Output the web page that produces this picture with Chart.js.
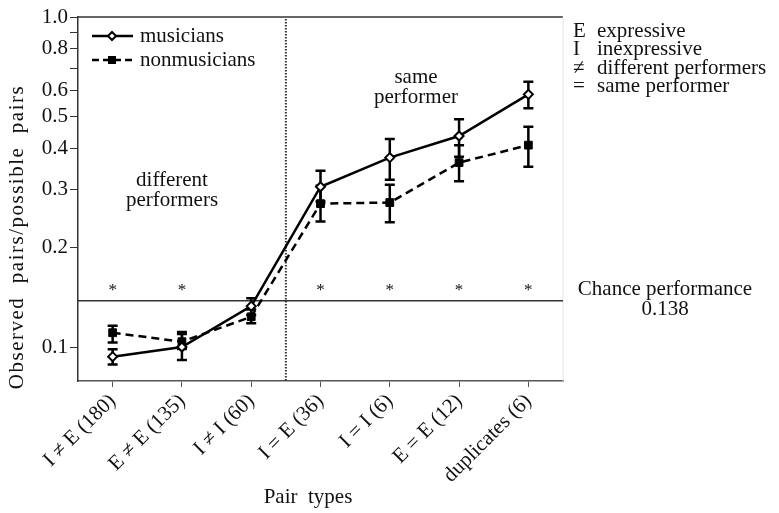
<!DOCTYPE html>
<html>
<head>
<meta charset="utf-8">
<script src="https://cdn.jsdelivr.net/npm/chart.js@4"></script>
<style>
  html, body { margin: 0; padding: 0; background: #fff; }
  #wrap { width: 779px; height: 513px; }
</style>
</head>
<body>
<div id="wrap"><canvas id="myChart" width="779" height="513"></canvas></div>
<script>
// data
const pairTypes = ['I \u2260 E (180)', 'E \u2260 E (135)', 'I \u2260 I (60)', 'I = E (36)', 'I = I (6)', 'E = E (12)', 'duplicates (6)'];

const musicians    = [0.0935, 0.100, 0.133, 0.306, 0.375, 0.436, 0.583];
const musiciansLo  = [0.0886, 0.0913, 0.125, 0.276, 0.321, 0.377, 0.529];
const musiciansHi  = [0.0984, 0.111, 0.1405, 0.342, 0.427, 0.490, 0.637];

const nonmusicians   = [0.1105, 0.1038, 0.1235, 0.272, 0.274, 0.362, 0.409];
const nonmusiciansLo = [0.1033, 0.0986, 0.118, 0.240, 0.239, 0.318, 0.352];
const nonmusiciansHi = [0.116, 0.1095, 0.130, 0.308, 0.310, 0.409, 0.465];

const significant = [true, true, false, true, true, true, true];
const starLevel = 0.152;
const chanceLevel = 0.138;
const dividerAt = 2.5; // between different / same performer groups

const yTickValues = [0.1, 0.2, 0.3, 0.4, 0.5, 0.6, 0.7, 0.8, 0.9, 1.0];
const yTickLabels = ['0.1', '0.2', '0.3', '0.4', '0.5', '0.6', '', '0.8', '', '1.0'];

const SERIF = '"Liberation Serif", "DejaVu Serif", serif';
const INK = '#111';
const FONT = '21px ' + SERIF;

const errors = [[musiciansLo, musiciansHi], [nonmusiciansLo, nonmusiciansHi]];

const extras = {
  id: 'extras',
  beforeDatasetsDraw(chart) {
    const {ctx, chartArea: a, scales: {x, y}} = chart;
    ctx.save();
    // top frame line and faint right edge
    ctx.strokeStyle = '#333';
    ctx.lineWidth = 1.5;
    ctx.beginPath();
    ctx.moveTo(a.left, a.top);
    ctx.lineTo(a.right, a.top);
    ctx.stroke();
    ctx.strokeStyle = '#e4e4e4';
    ctx.lineWidth = 1;
    ctx.beginPath();
    ctx.moveTo(a.right, a.top);
    ctx.lineTo(a.right, a.bottom);
    ctx.stroke();

    // chance line
    const cy = y.getPixelForValue(chanceLevel);
    ctx.strokeStyle = '#333';
    ctx.lineWidth = 1.5;
    ctx.beginPath();
    ctx.moveTo(a.left, cy);
    ctx.lineTo(a.right, cy);
    ctx.stroke();

    // dotted divider
    const dx = x.getPixelForValue(dividerAt);
    ctx.setLineDash([1.5, 1.5]);
    ctx.strokeStyle = '#333';
    ctx.lineWidth = 2;
    ctx.beginPath();
    ctx.moveTo(dx, a.top + 2);
    ctx.lineTo(dx, a.bottom);
    ctx.stroke();
    ctx.setLineDash([]);

    // error bars
    ctx.strokeStyle = '#000';
    ctx.lineWidth = 2.5;
    errors.forEach(([lo, hi]) => {
      lo.forEach((v, i) => {
        const px = x.getPixelForValue(i);
        const y0 = y.getPixelForValue(v);
        const y1 = y.getPixelForValue(hi[i]);
        ctx.beginPath();
        ctx.moveTo(px, y0); ctx.lineTo(px, y1);
        ctx.moveTo(px - 5, y0); ctx.lineTo(px + 5, y0);
        ctx.moveTo(px - 5, y1); ctx.lineTo(px + 5, y1);
        ctx.stroke();
      });
    });

    // significance stars
    ctx.fillStyle = INK;
    ctx.font = '17px ' + SERIF;
    ctx.textAlign = 'center';
    ctx.textBaseline = 'alphabetic';
    const m = ctx.measureText('*');
    const off = (m.actualBoundingBoxAscent - m.actualBoundingBoxDescent) / 2;
    significant.forEach((s, i) => {
      if (s) ctx.fillText('*', x.getPixelForValue(i), y.getPixelForValue(starLevel) + off);
    });
    ctx.restore();
  },
  afterDraw(chart) {
    const {ctx} = chart;
    ctx.save();
    ctx.fillStyle = INK;
    ctx.font = FONT;
    ctx.textBaseline = 'middle';

    // legend
    ctx.strokeStyle = '#000';
    ctx.lineWidth = 2.5;
    ctx.beginPath(); ctx.moveTo(92, 36); ctx.lineTo(133, 36); ctx.stroke();
    ctx.setLineDash([7, 4]);
    ctx.beginPath(); ctx.moveTo(92, 60); ctx.lineTo(133, 60); ctx.stroke();
    ctx.setLineDash([]);
    ctx.lineWidth = 2;
    ctx.fillStyle = '#fff';
    ctx.beginPath();
    ctx.moveTo(112, 32); ctx.lineTo(116, 36); ctx.lineTo(112, 40); ctx.lineTo(108, 36); ctx.closePath();
    ctx.fill(); ctx.stroke();
    ctx.fillStyle = '#000';
    ctx.fillRect(108, 56, 8, 8);
    ctx.fillStyle = INK;
    ctx.textAlign = 'left';
    ctx.fillText('musicians', 140, 36);
    ctx.fillText('nonmusicians', 140, 60);

    // group labels
    ctx.textAlign = 'center';
    ctx.fillText('different', 172, 180);
    ctx.fillText('performers', 172, 200);
    ctx.fillText('same', 416, 77);
    ctx.fillText('performer', 416, 97);

    // key on the right
    ctx.textBaseline = 'alphabetic';
    ctx.textAlign = 'left';
    const key = [['E', 'expressive'], ['I', 'inexpressive'], ['\u2260', 'different performers'], ['=', 'same performer']];
    key.forEach(([sym, txt], i) => {
      const by = 37 + i * 18.3;
      ctx.fillText(sym, 573, by);
      ctx.fillText(txt, 597, by);
    });

    ctx.textAlign = 'center';
    ctx.fillText('Chance performance', 665, 295);
    ctx.fillText('0.138', 665, 315);

    // axis titles
    ctx.textBaseline = 'middle';
    ctx.fillText('Pair  types', 308, 497);
    ctx.translate(17, 237);
    ctx.rotate(-Math.PI / 2);
    ctx.letterSpacing = '1.5px';
    ctx.fillText('Observed  pairs/possible  pairs', 0, 0);
    ctx.restore();
  }
};

const myChart = document.getElementById('myChart').getContext('2d');

const grafica = new Chart(myChart, {
  type: 'line',
  data: {
    labels: pairTypes,
    datasets: [
      {
        label: 'musicians',
        data: musicians,
        borderColor: '#000',
        borderWidth: 2.5,
        pointStyle: 'rectRot',
        pointRadius: 4.5,
        pointBackgroundColor: '#fff',
        pointBorderColor: '#000',
        pointBorderWidth: 2,
        tension: 0
      },
      {
        label: 'nonmusicians',
        data: nonmusicians,
        borderColor: '#000',
        borderWidth: 2.5,
        borderDash: [8, 5],
        pointStyle: 'rect',
        pointRadius: 5.5,
        pointBackgroundColor: '#000',
        pointBorderColor: '#000',
        pointBorderWidth: 1,
        tension: 0
      }
    ]
  },
  options: {
    responsive: false,
    animation: false,
    devicePixelRatio: 1,
    layout: { padding: { left: 0, right: 216, top: 17, bottom: 0 } },
    plugins: { legend: { display: false }, tooltip: { enabled: false } },
    scales: {
      x: {
        type: 'category',
        offset: true,
        afterFit: (s) => { s.height = 132; },
        grid: { display: true, drawOnChartArea: false, drawTicks: true, tickLength: 6, color: '#555', offset: false },
        border: { display: true, color: '#555', width: 1.5 },
        ticks: {
          autoSkip: false,
          minRotation: 45,
          maxRotation: 45,
          padding: 2,
          color: INK,
          font: { family: SERIF, size: 21 }
        }
      },
      y: {
        type: 'logarithmic',
        min: 0.0789,
        max: 1.0,
        afterFit: (s) => { s.width = 78; },
        afterBuildTicks: (s) => { s.ticks = yTickValues.map(v => ({ value: v })); },
        grid: { display: true, drawOnChartArea: false, drawTicks: true, tickLength: 8, color: '#333' },
        border: { display: true, color: '#333', width: 1.5 },
        ticks: {
          padding: 2,
          color: INK,
          font: { family: SERIF, size: 21 },
          callback: (v, i) => yTickLabels[i]
        }
      }
    }
  },
  plugins: [extras]
});
</script>
</body>
</html>
